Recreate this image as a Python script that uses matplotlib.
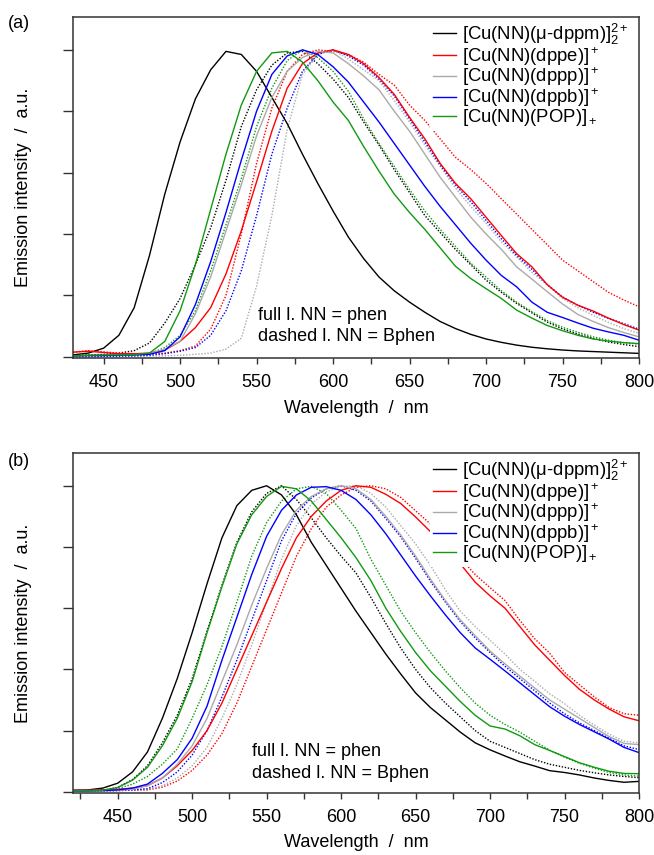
import matplotlib
matplotlib.use("Agg")
import matplotlib.pyplot as plt
from matplotlib.ticker import MultipleLocator

plt.rcParams['font.family'] = ['Liberation Sans', 'DejaVu Sans']
plt.rcParams['mathtext.fontset'] = 'custom'
plt.rcParams['mathtext.rm'] = 'Liberation Sans'
plt.rcParams['mathtext.it'] = 'Liberation Sans:italic'
plt.rcParams['mathtext.bf'] = 'Liberation Sans:bold'

# wavelength grids (nm)
wl_a = [430, 440, 450, 460, 470, 480, 490, 500, 510, 520,
        530, 540, 550, 560, 570, 580, 590, 600, 610, 620,
        630, 640, 650, 660, 670, 680, 690, 700, 710, 720,
        730, 740, 750, 760, 770, 780, 790, 800]
wl_b = [420, 430, 440, 450, 460, 470, 480, 490, 500,
        510, 520, 530, 540, 550, 560, 570, 580, 590, 600,
        610, 620, 630, 640, 650, 660, 670, 680, 690, 700,
        710, 720, 730, 740, 750, 760, 770, 780, 790, 800]

labels = [r'[Cu(NN)(μ-dppm)]$_2^{2+}$', r'[Cu(NN)(dppe)]$^+$', r'[Cu(NN)(dppp)]$^+$',
          r'[Cu(NN)(dppb)]$^+$', r'[Cu(NN)(POP)]$_+$']
colors = ['#000000', '#ff0000', '#aaaaaa', '#0000ff', '#119911']

# ---- panel (a), normalised emission ----
# full lines: NN = phen
a_dppm_phen = [.006, .012, .028, .07, .16, .33, .53, .70, .84, .935,
               .995, .985, .93, .845, .76, .66, .565, .475, .39, .32,
               .26, .215, .178, .145, .115, .092, .073, .058, .047, .038,
               .031, .026, .022, .019, .017, .015, .013, .011]
a_dppe_phen = [.015, .018, .014, .01, .01, .012, .022, .05, .095, .16,
               .27, .41, .57, .735, .875, .955, .99, 1.0, .985, .955,
               .91, .855, .78, .71, .63, .565, .515, .455, .395, .336,
               .293, .235, .194, .168, .149, .126, .105, .087]
a_dppp_phen = [.003, .004, .004, .005, .006, .01, .025, .05, .14, .26,
               .41, .56, .72, .845, .93, .975, .995, .99, .955, .915,
               .87, .80, .735, .66, .585, .52, .455, .40, .35, .293,
               .253, .212, .172, .138, .115, .095, .079, .065]
a_dppb_phen = [.003, .004, .004, .005, .006, .008, .02, .065, .17, .31,
               .47, .64, .80, .92, .98, 1.0, .985, .945, .895, .83,
               .765, .695, .625, .555, .49, .43, .37, .315, .265, .228,
               .178, .145, .128, .11, .093, .081, .07, .054]
a_pop_phen = [.003, .005, .006, .006, .007, .012, .05, .15, .30, .48,
              .66, .82, .93, .99, .995, .96, .90, .83, .77, .685,
              .605, .53, .47, .415, .355, .295, .255, .222, .19, .152,
              .126, .102, .085, .07, .058, .051, .046, .043]
# dashed lines: NN = Bphen
a_dppm_bphen = [.003, .006, .008, .012, .02, .045, .11, .19, .30, .42,
                .575, .75, .87, .95, .99, .995, .955, .905, .845, .765,
                .69, .61, .535, .46, .405, .35, .30, .25, .21, .174,
                .143, .113, .091, .074, .06, .048, .04, .033]
a_dppe_bphen = [.015, .02, .016, .012, .01, .01, .012, .02, .035, .09,
                .20, .40, .63, .81, .93, .985, 1.0, .995, .985, .96,
                .92, .885, .82, .77, .71, .65, .61, .565, .515, .465,
                .415, .365, .315, .28, .245, .21, .185, .163]
a_dppp_bphen = [0, 0, .001, .001, .002, .002, .003, .005, .008, .012,
                .025, .06, .23, .46, .74, .92, .985, 1.0, .97, .935,
                .90, .835, .765, .69, .62, .55, .49, .435, .375, .325,
                .275, .235, .19, .16, .135, .112, .092, .076]
a_dppb_bphen = [0, 0, .001, .002, .003, .005, .01, .018, .03, .07,
                .15, .28, .46, .66, .81, .93, .985, 1.0, .98, .95,
                .905, .85, .775, .70, .625, .56, .505, .445, .385, .33,
                .285, .235, .195, .168, .145, .125, .108, .09]
a_pop_bphen = [.003, .004, .005, .005, .006, .01, .03, .07, .15, .28,
               .43, .58, .75, .875, .965, 1.0, .975, .93, .865, .775,
               .695, .62, .545, .475, .415, .36, .305, .26, .215, .178,
               .147, .118, .096, .08, .065, .054, .046, .041]

# ---- panel (b) ----
b_dppm_phen = [.005, .006, .012, .028, .065, .13, .24, .37, .52,
               .68, .83, .935, .985, 1.0, .97, .905, .815, .74, .665,
               .59, .52, .45, .385, .323, .275, .235, .195, .16, .137,
               .117, .098, .084, .069, .063, .055, .045, .037, .031, .034]
b_dppe_phen = [.005, .005, .006, .008, .012, .02, .045, .085, .135,
               .20, .29, .40, .51, .62, .73, .83, .90, .95, .985,
               1.0, .995, .972, .942, .898, .85, .80, .745, .685, .64,
               .60, .54, .48, .43, .38, .335, .30, .27, .245, .232]
b_dppp_phen = [.002, .002, .003, .005, .008, .02, .045, .09, .15,
               .24, .36, .48, .61, .73, .84, .92, .965, .99, 1.0,
               .99, .955, .90, .839, .77, .695, .625, .562, .51, .46,
               .418, .378, .339, .30, .27, .24, .21, .18, .158, .154]
b_dppb_phen = [.003, .003, .004, .006, .012, .025, .06, .105, .175,
               .28, .43, .57, .71, .835, .92, .97, .995, .997, .985,
               .955, .905, .843, .774, .705, .64, .578, .52, .47, .433,
               .395, .356, .317, .278, .247, .22, .196, .172, .145, .128]
b_pop_phen = [.004, .004, .005, .014, .038, .08, .15, .24, .36,
              .52, .67, .81, .905, .965, .998, .99, .95, .89, .83,
              .765, .69, .60, .524, .455, .395, .345, .295, .25, .215,
              .205, .183, .154, .135, .115, .095, .08, .067, .06, .059]
b_dppm_bphen = [.003, .003, .005, .014, .04, .085, .16, .25, .37,
                .525, .675, .815, .915, .975, 1.0, .955, .895, .83, .77,
                .715, .635, .55, .47, .40, .34, .29, .245, .20, .165,
                .145, .125, .105, .09, .08, .07, .062, .055, .05, .046]
b_dppe_bphen = [.002, .002, .003, .004, .005, .006, .015, .035, .07,
                .12, .19, .29, .41, .53, .65, .77, .86, .93, .97,
                .995, 1.0, .99, .962, .918, .875, .82, .763, .71, .667,
                .625, .56, .50, .453, .39, .35, .31, .275, .255, .25]
b_dppp_bphen = [.002, .002, .003, .004, .006, .008, .02, .045, .085,
                .145, .24, .35, .48, .62, .76, .87, .94, .98, .998,
                1.0, .975, .93, .87, .81, .74, .66, .59, .54, .495,
                .45, .40, .361, .32, .288, .25, .218, .188, .165, .16]
b_dppb_bphen = [.002, .002, .003, .004, .006, .01, .03, .065, .12,
                .20, .31, .43, .56, .69, .82, .91, .96, .99, 1.0,
                .985, .95, .893, .833, .763, .688, .62, .556, .503, .455,
                .41, .37, .33, .29, .255, .225, .20, .175, .15, .138]
b_pop_bphen = [.003, .003, .004, .01, .025, .05, .09, .14, .24,
               .35, .475, .62, .77, .88, .95, .99, .998, .975, .92,
               .86, .76, .675, .59, .52, .455, .395, .34, .29, .25,
               .22, .195, .165, .136, .113, .093, .077, .063, .055, .051]


def draw_panel(ax, wl, phen, bphen, xlim, note_x, note_y):
    for y, c in zip(bphen, colors):
        ax.plot(wl, y, color=c, lw=1.0, ls=(0, (1, 1.2)))
    for y, c, lab in zip(phen, colors, labels):
        ax.plot(wl, y, color=c, lw=1.0, label=lab)

    ax.set_xlim(*xlim)
    ax.set_ylim(-0.004, 1.107)
    ax.set_xticks([450, 500, 550, 600, 650, 700, 750, 800])
    ax.xaxis.set_minor_locator(MultipleLocator(25))
    ax.set_yticks([0, 0.2, 0.4, 0.6, 0.8, 1.0])
    ax.tick_params(axis='x', which='both', direction='out', length=4, width=1,
                   pad=7.5, labelsize=13, color='#333333', top=False)
    ax.tick_params(axis='y', which='both', direction='out', length=7.5, width=1,
                   labelleft=False, color='#333333', right=False)
    for s in ax.spines.values():
        s.set_color('#333333')
        s.set_linewidth(1.1)

    ax.set_xlabel('Wavelength  /  nm', fontsize=13)
    ax.set_ylabel('Emission intensity  /  a.u.', fontsize=13)
    ax.xaxis.set_label_coords(0.5, -0.122)
    ax.yaxis.set_label_coords(-0.072, 0.5)

    ax.text(note_x, note_y, 'full l. NN = phen\ndashed l. NN = Bphen',
            transform=ax.transAxes, fontsize=13, va='center', ha='left',
            linespacing=1.35)

    leg = ax.legend(loc='upper right', bbox_to_anchor=(0.99, 1.0), fontsize=13.3,
                    frameon=True, framealpha=1, fancybox=False, edgecolor='none',
                    borderaxespad=0.1, borderpad=0.15, handlelength=1.25,
                    handletextpad=0.33, labelspacing=-0.1)
    leg.get_frame().set_facecolor('white')


def main():
    fig = plt.figure(figsize=(6.54, 8.55), dpi=100)
    ax_a = fig.add_axes([73 / 654, (855 - 358) / 855, 566 / 654, 341 / 855])
    ax_b = fig.add_axes([73 / 654, (855 - 793) / 855, 566 / 654, 340 / 855])

    draw_panel(ax_a, wl_a,
               [a_dppm_phen, a_dppe_phen, a_dppp_phen, a_dppb_phen, a_pop_phen],
               [a_dppm_bphen, a_dppe_bphen, a_dppp_bphen, a_dppb_bphen, a_pop_bphen],
               (430, 800), 0.327, 0.094)
    draw_panel(ax_b, wl_b,
               [b_dppm_phen, b_dppe_phen, b_dppp_phen, b_dppb_phen, b_pop_phen],
               [b_dppm_bphen, b_dppe_bphen, b_dppp_bphen, b_dppb_bphen, b_pop_bphen],
               (420, 800), 0.316, 0.09)

    fig.text(8 / 654, 1 - 24 / 855, '(a)', fontsize=13, va='center', ha='left')
    fig.text(8 / 654, 1 - 461 / 855, '(b)', fontsize=13, va='center', ha='left')

    fig.savefig('out.png', dpi=100)


if __name__ == '__main__':
    main()
